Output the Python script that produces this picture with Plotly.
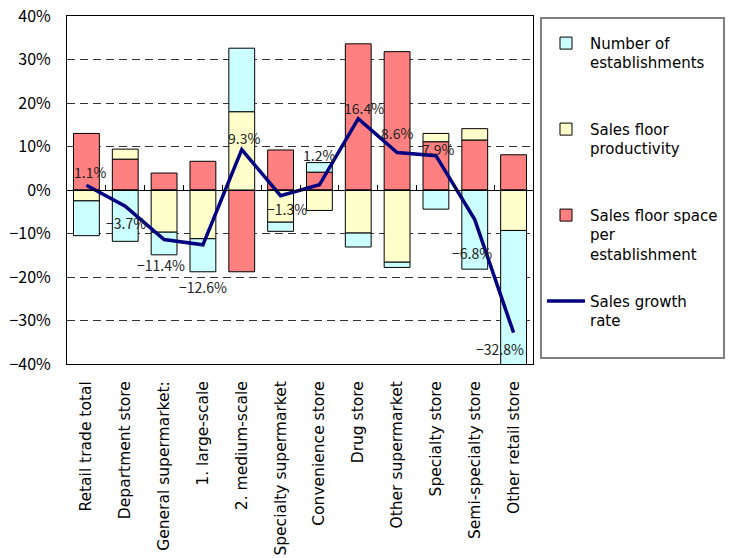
import plotly.graph_objects as go

# Retail categories (left to right)
categories = [
    "Retail trade total",
    "Department store",
    "General supermarket:",
    "1. large-scale",
    "2. medium-scale",
    "Specialty supermarket",
    "Convenience store",
    "Drug store",
    "Other supermarket",
    "Specialty store",
    "Semi-specialty store",
    "Other retail store",
]

# Contribution of each factor to the sales growth rate (%)
space_per_establishment = [13.0, 7.1, 3.9, 6.6, -18.8, 9.2, 4.1, 33.6, 31.8, 11.1, 11.5, 8.1]
floor_productivity = [-2.5, 2.3, -9.7, -11.2, 18.0, -7.4, -4.7, -9.9, -16.6, 1.9, 2.6, -9.3]
number_of_establishments = [-8.0, -11.8, -5.2, -7.6, 14.6, -2.1, 2.2, -3.2, -1.2, -4.4, -18.2, -31.2]

# Sales growth rate (%)
sales_growth = [1.1, -3.7, -11.4, -12.6, 9.3, -1.3, 1.2, 16.4, 8.6, 7.9, -6.8, -32.8]

# Pixel offsets of the value labels relative to each line point
label_dx = [4, 1, -3, 0, 2, 6, 0, 6, 0, 2, -3, -14]
label_dy = [13, -17, -25, -42, 12, -13, 30, 11, 20, 7, -33, -16]

FONT = "Noto Sans CJK JP"
TEXT_FONT = "DejaVu Sans"
n = len(categories)

fig = go.Figure()

bar_style = dict(marker_line_color="black", marker_line_width=1)

# Bars stack outward from zero in this order: space, productivity, number
fig.add_trace(go.Bar(
    x=categories, y=space_per_establishment,
    name="Sales floor space<br>per<br>establishment<br>\u00a0",
    marker_color="#FF8080", legendrank=3, legendgroup="c", **bar_style,
))
fig.add_trace(go.Bar(
    x=categories, y=floor_productivity,
    name="Sales floor<br>productivity<br>\u00a0<br>\u00a0",
    marker_color="#FFFFCC", legendrank=2, legendgroup="b", **bar_style,
))
fig.add_trace(go.Bar(
    x=categories, y=number_of_establishments,
    name="Number of<br>establishments<br>\u00a0<br>\u00a0",
    marker_color="#CCFFFF", legendrank=1, legendgroup="a", **bar_style,
))
fig.add_trace(go.Scatter(
    x=categories, y=sales_growth, mode="lines",
    name="Sales growth<br>rate<br>\u00a0",
    line=dict(color="#000080", width=3.5), legendrank=4, legendgroup="d",
))

# Value labels on the growth line
for cat, v, dx, dy in zip(categories, sales_growth, label_dx, label_dy):
    fig.add_annotation(
        x=cat, y=v, text=f"{v:.1f}%".replace("-", "\u2212"),
        showarrow=False, xshift=dx, yshift=dy,
        font=dict(family=FONT, size=14, color="#222"),
    )

fig.update_layout(
    width=737, height=558,
    margin=dict(l=67, r=200, t=16, b=194),
    paper_bgcolor="white", plot_bgcolor="white",
    barmode="relative", bargap=0.335,
    font=dict(family=FONT, size=16, color="black"),
    showlegend=True,
    legend=dict(
        x=1.015, xanchor="left", y=0.997, yanchor="top",
        bordercolor="#808080", borderwidth=2, bgcolor="white",
        font=dict(family=TEXT_FONT, size=15, color="black"),
        valign="top", itemwidth=38, tracegroupgap=5,
        title=dict(text="\u00a0", font=dict(size=6)),
    ),
    xaxis=dict(
        type="category", range=[-0.5, n - 0.5],
        tickangle=-90, ticks="", ticklabelstandoff=10,
        tickfont=dict(family=TEXT_FONT, size=15.5, color="black"),
        showline=True, mirror=True, linecolor="black", linewidth=1,
        showgrid=False, automargin=False,
    ),
    # Zero-line axis with category boundary ticks
    xaxis2=dict(
        overlaying="x", anchor="free", position=0.5,
        range=[-0.5, n - 0.5], tick0=0.5, dtick=1,
        ticks="inside", ticklen=5, tickcolor="black",
        showticklabels=False, showline=True, linecolor="black", linewidth=1,
        showgrid=False, zeroline=False,
    ),
    yaxis=dict(
        range=[-40, 40], dtick=10, ticksuffix="%",
        tickfont=dict(family=FONT, size=16, color="black"),
        ticklabelstandoff=12,
        showline=True, mirror=True, linecolor="black", linewidth=1,
        showgrid=True, gridcolor="#333", gridwidth=1, griddash="8px,5px",
        zeroline=False, automargin=False,
    ),
)

# Invisible trace to activate the zero-line axis
fig.add_trace(go.Scatter(
    x=[0, n - 1], y=[0, 0], xaxis="x2", mode="lines",
    line=dict(width=0), showlegend=False, hoverinfo="skip",
))

fig.write_html("out.html")
